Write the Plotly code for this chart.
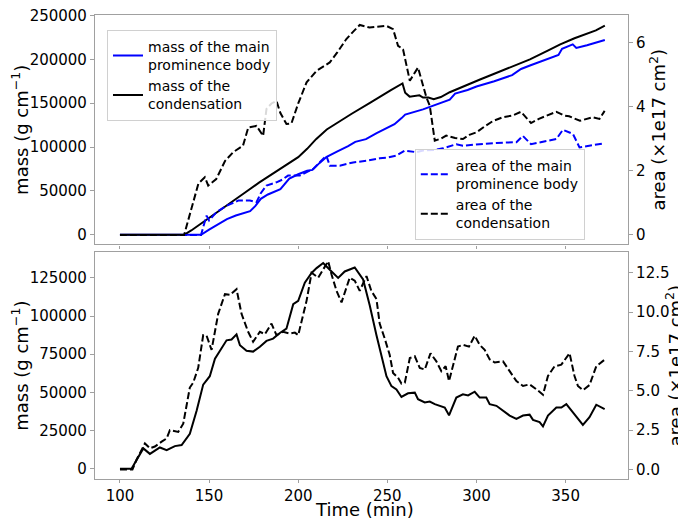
import plotly.graph_objects as go

# ---------------- data ----------------
# Top panel: mass of the condensation (g cm^-1)
t_cond_mass = [100, 136, 140, 150, 160, 170, 178, 190, 200, 205, 210, 216, 222, 230, 240, 246, 252,
               258.5, 260, 262.5, 265, 268, 270, 273, 276, 280, 285, 290, 295, 302, 310, 318, 324,
               330, 340, 347, 355, 362, 367, 372]
cond_mass = [0, 0, 5000, 19000, 33500, 48000, 59500, 75000, 88500, 98000, 109000, 120000, 128000,
             138000, 150000, 158000, 165000, 172500, 162000, 157500, 158500, 159000, 156500, 156500,
             154500, 157000, 162500, 166500, 170500, 177000, 183500, 190000, 194500, 200000, 210000,
             217000, 224000, 229500, 233000, 238500]

# Top panel: mass of the main prominence body
t_main_mass = [100, 145.5, 150, 155, 160, 165, 173, 176, 179, 183, 190, 195, 200, 205, 208, 212, 216,
               222, 228, 232, 238, 244, 250, 254, 258, 260, 270, 280, 285, 288, 295, 300, 310, 320,
               325, 330, 340, 346, 348, 354, 356, 362, 372]
main_mass = [0, 0, 6000, 12000, 18000, 22000, 27000, 33000, 41000, 46000, 52000, 64000, 69000, 73000,
             74000, 82000, 89000, 95000, 101000, 106000, 109000, 116000, 122000, 126000, 133000,
             137000, 143000, 150000, 154000, 161000, 165000, 169000, 175000, 182000, 189000, 193000,
             200000, 205000, 212000, 217000, 213000, 216000, 222000]

# Top panel: area of the condensation (x1e17 cm^2)
t_cond_area = [100, 136, 140, 144, 147.6, 149.5, 154, 159, 163.5, 169, 172, 176.6, 180.3, 182.2, 185,
               187.8, 190, 193.4, 196.2, 200, 204.7, 210.3, 214, 217.7, 222, 227, 231, 234.5, 240,
               245, 249.5, 253.2, 256, 258.8, 262.6, 267.2, 271.9, 273.8, 276.6, 280, 283, 288,
               292.4, 296, 300, 305, 309.2, 314.8, 320, 325, 330.6, 335, 337, 344.8, 349.4, 352,
               358, 365.3, 369, 371.9]
cond_area = [0, 0, 0.8, 1.6, 1.80, 1.54, 1.74, 2.31, 2.58, 2.78, 3.35, 3.40, 3.09, 3.93, 4.10, 4.18,
             3.80, 3.46, 3.48, 4.10, 4.76, 5.12, 5.25, 5.38, 5.70, 6.11, 6.35, 6.55, 6.47, 6.50,
             6.52, 6.42, 5.90, 5.79, 4.81, 5.22, 4.29, 4.03, 2.94, 3.00, 3.10, 3.02, 2.99, 3.12,
             3.20, 3.40, 3.55, 3.67, 3.72, 3.84, 3.49, 3.62, 3.67, 3.84, 3.72, 3.70, 3.56, 3.67,
             3.62, 3.87]

# Top panel: area of the main prominence body
t_main_area = [100, 145.5, 147, 148.6, 150, 154.2, 159.8, 166.4, 172.9, 176.6, 179, 182.2, 187.8,
               191, 194.3, 200.9, 208.4, 212, 215.8, 217.7, 223.3, 230.8, 238.2, 245.7, 250, 255,
               259.8, 266.3, 270, 276, 281.2, 288.7, 292.4, 301.8, 311.1, 322.4, 326, 330.6, 335.4,
               344.8, 348.5, 354.1, 357.8, 363.4, 371.9]
main_area = [0, 0, 0.3, 0.60, 0.45, 0.71, 0.91, 1.07, 1.07, 1.02, 1.30, 1.54, 1.64, 1.72, 1.85, 1.85,
             2.06, 2.25, 2.47, 2.16, 2.16, 2.26, 2.31, 2.39, 2.41, 2.47, 2.63, 2.58, 2.63, 2.65,
             2.70, 2.83, 2.78, 2.83, 2.87, 2.89, 3.09, 2.83, 2.89, 2.99, 3.28, 3.15, 2.73, 2.78,
             2.86]

# Bottom panel: mass (g cm^-1)
t_low_mass = [100, 106.5, 113.1, 116.8, 122.4, 126.2, 130.8, 134.6, 139.2, 143, 146.7, 150.4, 153.3,
              155, 159.8, 162.6, 165.4, 167.3, 171, 174.7, 178.5, 182.2, 185.9, 189.7, 193.4, 197.2,
              200, 203.7, 207.5, 210.3, 214, 217.7, 222.4, 226.1, 231.7, 236.4, 240.1, 243.9,
              247.6, 249.5, 252.3, 255.1, 257.9, 261.6, 265.4, 267.2, 271, 273.8, 276.6, 279.4,
              282.2, 284.6, 288.7, 292.4, 295.3, 299, 301.8, 305.5, 307.4, 311.2, 314.9, 318.6,
              322.4, 326.1, 329.8, 331.7, 335.4, 337.3, 340.1, 344.8, 347.6, 350.4, 354.1, 359.7,
              363.4, 367.2, 371.9]
low_mass = [0, 0, 13300, 9700, 13900, 12200, 14800, 15500, 22900, 38000, 55100, 60600, 72000, 75000,
            84100, 84600, 88000, 80900, 77300, 76700, 79900, 83700, 85200, 88900, 91700, 107800,
            109900, 121800, 128200, 131400, 134700, 130300, 125000, 129200, 131800, 123900, 107000,
            87400, 70200, 60600, 54100, 51900, 47000, 49400, 49800, 45500, 43400, 44000, 42300,
            41200, 40100, 35000, 46600, 48700, 48000, 50400, 46600, 46600, 42300, 41200, 38000,
            34800, 32600, 34800, 35400, 32000, 30500, 27700, 34800, 40100, 40100, 42300, 36900,
            28700, 33700, 41900, 39000]

# Bottom panel: area (x1e17 cm^2)
t_low_area = [100, 107, 109.3, 114, 116.8, 119.6, 123.4, 126.2, 128, 132.7, 135.5, 139.2, 141.1,
              143.9, 146.7, 148.6, 151.4, 155.1, 158.9, 161.7, 165.4, 168.2, 171.9, 174.7, 178.5,
              181.3, 185, 187.8, 191.5, 195.3, 198.1, 200, 204.7, 207.5, 211.2, 216.8, 218.7,
              221.5, 224.3, 228.9, 231.7, 234.5, 238.3, 241, 243.9, 245.7, 248.5, 251.3, 253.2,
              256, 257.9, 259.8, 262.6, 265.4, 268.2, 271, 274.2, 277.5, 280.3, 282.7, 284.6,
              289.6, 292.4, 295.8, 299, 301.8, 304.6, 307.4, 310.2, 314.9, 318.6, 322.4, 326.1,
              329.8, 333.6, 337.3, 340.1, 343.8, 347.6, 352.2, 355, 356.9, 359.7, 363.4, 367.2,
              371.9]
low_area = [0, 0, 0.62, 1.66, 1.35, 1.46, 1.77, 1.98, 2.50, 2.39, 2.91, 5.21, 5.52, 6.46, 8.54, 8.50,
            7.60, 9.89, 11.14, 11.10, 11.46, 9.89, 8.75, 8.12, 8.75, 8.60, 9.27, 8.54, 8.75, 8.64,
            8.70, 8.54, 10.73, 12.50, 12.19, 13.23, 12.39, 11.35, 10.62, 12.19, 12.00, 11.35, 12.29,
            11.35, 10.83, 9.27, 8.33, 7.29, 6.14, 5.83, 5.46, 5.52, 7.08, 7.19, 6.46, 6.35, 7.39,
            6.87, 6.25, 6.56, 5.62, 7.81, 7.92, 7.81, 8.50, 7.92, 7.60, 7.00, 6.80, 6.87, 6.25,
            5.62, 5.31, 5.41, 5.10, 4.75, 5.94, 6.56, 6.66, 7.39, 5.94, 5.31, 5.04, 5.37, 6.56,
            6.98]

x_ticks = [100, 150, 200, 250, 300, 350]
top_mass_ticks = [0, 50000, 100000, 150000, 200000, 250000]
top_area_ticks = [0, 2, 4, 6]
low_mass_ticks = [0, 25000, 50000, 75000, 100000, 125000]
low_area_ticks = [0.0, 2.5, 5.0, 7.5, 10.0, 12.5]

# ---------------- figure ----------------
FONT = "DejaVu Sans"
DASH = "7px,3px"
LW = 2

fig = go.Figure()

fig.add_trace(go.Scatter(x=t_main_mass, y=main_mass, mode="lines", xaxis="x2", yaxis="y",
                         line=dict(color="blue", width=LW),
                         name="mass of the main<br>prominence body", legend="legend"))
fig.add_trace(go.Scatter(x=t_cond_mass, y=cond_mass, mode="lines", xaxis="x2", yaxis="y",
                         line=dict(color="black", width=LW),
                         name="mass of the<br>condensation", legend="legend"))
fig.add_trace(go.Scatter(x=t_main_area, y=main_area, mode="lines", xaxis="x2", yaxis="y2",
                         line=dict(color="blue", width=LW, dash=DASH),
                         name="area of the main<br>prominence body", legend="legend2"))
fig.add_trace(go.Scatter(x=t_cond_area, y=cond_area, mode="lines", xaxis="x2", yaxis="y2",
                         line=dict(color="black", width=LW, dash=DASH),
                         name="area of the<br>condensation", legend="legend2"))

fig.add_trace(go.Scatter(x=t_low_mass, y=low_mass, mode="lines", xaxis="x", yaxis="y3",
                         line=dict(color="black", width=LW), showlegend=False))
fig.add_trace(go.Scatter(x=t_low_area, y=low_area, mode="lines", xaxis="x", yaxis="y4",
                         line=dict(color="black", width=LW, dash=DASH), showlegend=False))

AX_COL = "#a0a0a0"
tickfont = dict(family=FONT, size=15, color="black")
titlefont = dict(family=FONT, size=18, color="black")

common_x = dict(range=[86, 385], tickvals=x_ticks, ticks="outside", ticklen=3, tickcolor=AX_COL,
                showline=True, linecolor=AX_COL, linewidth=1.2, mirror=True, showgrid=False,
                zeroline=False, tickfont=tickfont, automargin=False, ticklabeloverflow="allow")
common_y = dict(ticks="outside", ticklen=4, tickcolor=AX_COL, showline=True, linecolor=AX_COL,
                linewidth=1.2, showgrid=False, zeroline=False, tickfont=tickfont, automargin=False,
                ticklabeloverflow="allow")

top_dom = [0.5054, 1.0]
low_dom = [0.0, 0.4886]

# the page body has an 8px margin, so the figure is 8px smaller than the window
fig.update_layout(
    width=678, height=512,
    margin=dict(l=87, r=58, t=7, b=41, autoexpand=False),
    paper_bgcolor="white", plot_bgcolor="white",
    font=dict(family=FONT, color="black"),
    xaxis=dict(**common_x, anchor="y3", domain=[0, 1]),
    xaxis2=dict(**common_x, anchor="y", domain=[0, 1], matches="x", showticklabels=False),
    yaxis=dict(**common_y, anchor="x2", domain=top_dom, range=[-11000, 250500],
               tickvals=top_mass_ticks, tickformat="d", mirror=True,
               title=dict(text="mass (g cm<sup>\u22121</sup>)", font=titlefont, standoff=6)),
    yaxis2=dict(**common_y, anchor="x2", overlaying="y", side="right", range=[-0.3, 6.86],
                tickvals=top_area_ticks, tickformat="d",
                title=dict(text="area (\u00d71e17 cm<sup>2</sup>)", font=titlefont, standoff=6)),
    yaxis3=dict(**common_y, anchor="x", domain=low_dom, range=[-6750, 141750],
                tickvals=low_mass_ticks, tickformat="d", mirror=True,
                title=dict(text="mass (g cm<sup>\u22121</sup>)", font=titlefont, standoff=6)),
    yaxis4=dict(**common_y, anchor="x", overlaying="y3", side="right", range=[-0.6, 13.8],
                tickvals=low_area_ticks, tickformat=".1f",
                title=dict(text="area (\u00d71e17 cm<sup>2</sup>)", font=titlefont, standoff=6)),
    legend=dict(x=0.0225, y=0.968, xanchor="left", yanchor="top",
                bgcolor="rgba(255,255,255,0.85)", bordercolor="#d0d0d0", borderwidth=1,
                font=dict(family=FONT, size=14, color="black"), tracegroupgap=4),
    legend2=dict(x=0.6, y=0.516, xanchor="left", yanchor="bottom",
                 bgcolor="rgba(255,255,255,0.85)", bordercolor="#d0d0d0", borderwidth=1,
                 font=dict(family=FONT, size=14, color="black"), tracegroupgap=4),
    annotations=[dict(text="Time (min)", xref="paper", yref="paper", x=0.505, y=-0.0668,
                      xanchor="center", yanchor="middle", showarrow=False, font=titlefont)],
)

fig.write_html("out.html")
